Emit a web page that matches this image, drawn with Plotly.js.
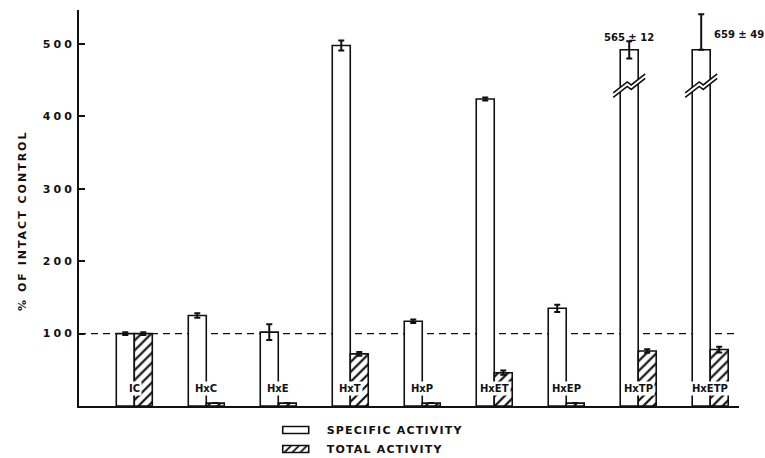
<!DOCTYPE html>
<html>
<head>
<meta charset="utf-8">
<script src="https://cdn.plot.ly/plotly-3.0.1.min.js"></script>
<style>
  html, body { margin: 0; padding: 0; background: #fff; }
  #chart { width: 765px; height: 458px; }
  .ytick text { letter-spacing: 3px; }
  .legendtext { letter-spacing: 1.2px; }
  .annotation[data-index="0"] text { letter-spacing: 2px; }
</style>
</head>
<body>
<div id="chart"></div>
<script>
// ---- data ----
const categories = ['IC', 'HxC', 'HxE', 'HxT', 'HxP', 'HxET', 'HxEP', 'HxTP', 'HxETP'];
// specific activity (drawn heights; the last two bars are drawn broken)
const specificActivity = [100, 125, 102, 498, 117, 424, 135, 492, 492];
const specificErrPlus  = [2, 3, 11, 7, 2.5, 2, 5, 12, 49];
const specificErrMinus = [2, 3, 11, 7, 2.5, 2, 5, 12, 0];
// total activity
const totalActivity = [100, 4, 4, 72, 4, 46, 4, 76, 78];
const totalErr      = [2, 0, 0, 2.5, 0, 3, 0, 2.5, 4];
// broken bars and their true values
const brokenIndex  = [7, 8];
const brokenLabels = ['565 ± 12', '659 ± 49'];
const yTickVals = [100, 200, 300, 400, 500];
const referenceLevel = 100;
const seriesNames = ['SPECIFIC ACTIVITY', 'TOTAL ACTIVITY'];

const FONT = 'DejaVu Sans, Verdana, sans-serif';
const INK = '#111';
const xIdx = categories.map((c, i) => i);
const BW = 0.25;

const traces = [
  {
    type: 'bar', name: seriesNames[0], x: xIdx, y: specificActivity,
    width: BW, offset: -BW,
    marker: { color: '#fff', line: { color: INK, width: 1.6 } },
    error_y: { type: 'data', symmetric: false, array: specificErrPlus, arrayminus: specificErrMinus,
               color: INK, thickness: 2, width: 3 },
    hoverinfo: 'skip'
  },
  {
    type: 'bar', name: seriesNames[1], x: xIdx, y: totalActivity,
    width: BW, offset: 0,
    marker: { color: '#fff', line: { color: INK, width: 1.6 },
              pattern: { shape: '/', fgcolor: INK, bgcolor: '#fff', size: 7, solidity: 0.32 } },
    error_y: { type: 'data', array: totalErr, color: INK, thickness: 2, width: 3 },
    hoverinfo: 'skip'
  }
];

// px -> data helpers for the break marks
const PXX = 1 / 72;       // x units per pixel
const PXY = 547 / 396;    // y units per pixel
const breakY = 440;
const zig = [[-16, -10], [-2, 1], [2, -2], [16, 9]];
const gap = 4.5;

const shapes = [
  { type: 'line', xref: 'paper', yref: 'y', x0: 0, x1: 0.997, y0: referenceLevel, y1: referenceLevel,
    line: { color: INK, width: 1.4, dash: '7px,5px' }, layer: 'below' }
];
brokenIndex.forEach(i => {
  const cx = i - BW / 2;
  const lower = zig.map(p => [cx + p[0] * PXX, breakY + p[1] * PXY]);
  const upper = zig.map(p => [cx + p[0] * PXX, breakY + (p[1] + gap) * PXY]);
  const poly = lower.concat(upper.slice().reverse());
  shapes.push({ type: 'path', xref: 'x', yref: 'y',
    path: 'M' + poly.map(p => p[0] + ',' + p[1]).join('L') + 'Z',
    fillcolor: '#fff', line: { width: 0 } });
  [lower, upper].forEach(l => shapes.push({ type: 'path', xref: 'x', yref: 'y',
    path: 'M' + l.map(p => p[0] + ',' + p[1]).join('L'),
    line: { color: INK, width: 1.6 } }));
});

const annotations = [
  { text: '% OF INTACT CONTROL', xref: 'paper', yref: 'paper', x: -0.086, y: 0.468,
    xanchor: 'center', yanchor: 'middle', textangle: -90, showarrow: false,
    font: { family: FONT, size: 11, color: INK, weight: 'bold' } }
];
categories.forEach((c, i) => annotations.push({
  text: c, xref: 'x', yref: 'y', x: i, y: 24, xanchor: 'center', yanchor: 'middle',
  showarrow: false, bgcolor: '#fff', borderpad: 1,
  font: { family: FONT, size: 10, color: INK, weight: 'bold' }
}));
brokenIndex.forEach((i, k) => annotations.push({
  text: brokenLabels[k], xref: 'x', yref: 'y',
  x: k === 0 ? i - BW / 2 : i - BW / 2 + 0.145, y: 541 - 23 * PXY + (k === 0 ? 0 : 3 * PXY),
  xanchor: k === 0 ? 'center' : 'left', yanchor: 'middle', showarrow: false,
  font: { family: FONT, size: 10, color: INK, weight: 'bold' }
}));

const layout = {
  width: 765, height: 458,
  margin: { l: 79, r: 26, t: 10, b: 52, autoexpand: false },
  paper_bgcolor: '#fff', plot_bgcolor: '#fff',
  barmode: 'overlay',
  showlegend: true,
  legend: { x: 0.292, y: -0.024, xanchor: 'left', yanchor: 'top', orientation: 'v',
            itemwidth: 45, tracegroupgap: 0, bgcolor: 'rgba(0,0,0,0)',
            font: { family: FONT, size: 11, color: INK, weight: 'bold' } },
  xaxis: { range: [-0.768, 8.40], showgrid: false, zeroline: false, showticklabels: false,
           ticks: '', showline: true, linecolor: INK, linewidth: 2 },
  yaxis: { range: [0, 547], showgrid: false, zeroline: false, tickvals: yTickVals,
           ticks: 'inside', ticklen: 6, tickwidth: 2, tickcolor: INK,
           showline: true, linecolor: INK, linewidth: 2,
           tickfont: { family: FONT, size: 11, color: INK, weight: 'bold' } },
  shapes: shapes,
  annotations: annotations
};

Plotly.newPlot('chart', traces, layout, { displayModeBar: false, staticPlot: true }).then(gd => {
  // reshape legend swatches into wide, short boxes like the original key
  gd.querySelectorAll('.legendpoints path').forEach(p => {
    p.setAttribute('d', 'M13,3.5H-13V-3.5H13Z');
    const t = p.getAttribute('transform') || '';
    const m = t.match(/translate\(\s*([-\d.]+)[ ,]+([-\d.]+)\s*\)/);
    const tx = m ? parseFloat(m[1]) : 20, ty = m ? parseFloat(m[2]) : 0;
    p.setAttribute('transform', 'translate(' + (tx - 3.5) + ',' + ty + ')');
  });
});
</script>
</body>
</html>
